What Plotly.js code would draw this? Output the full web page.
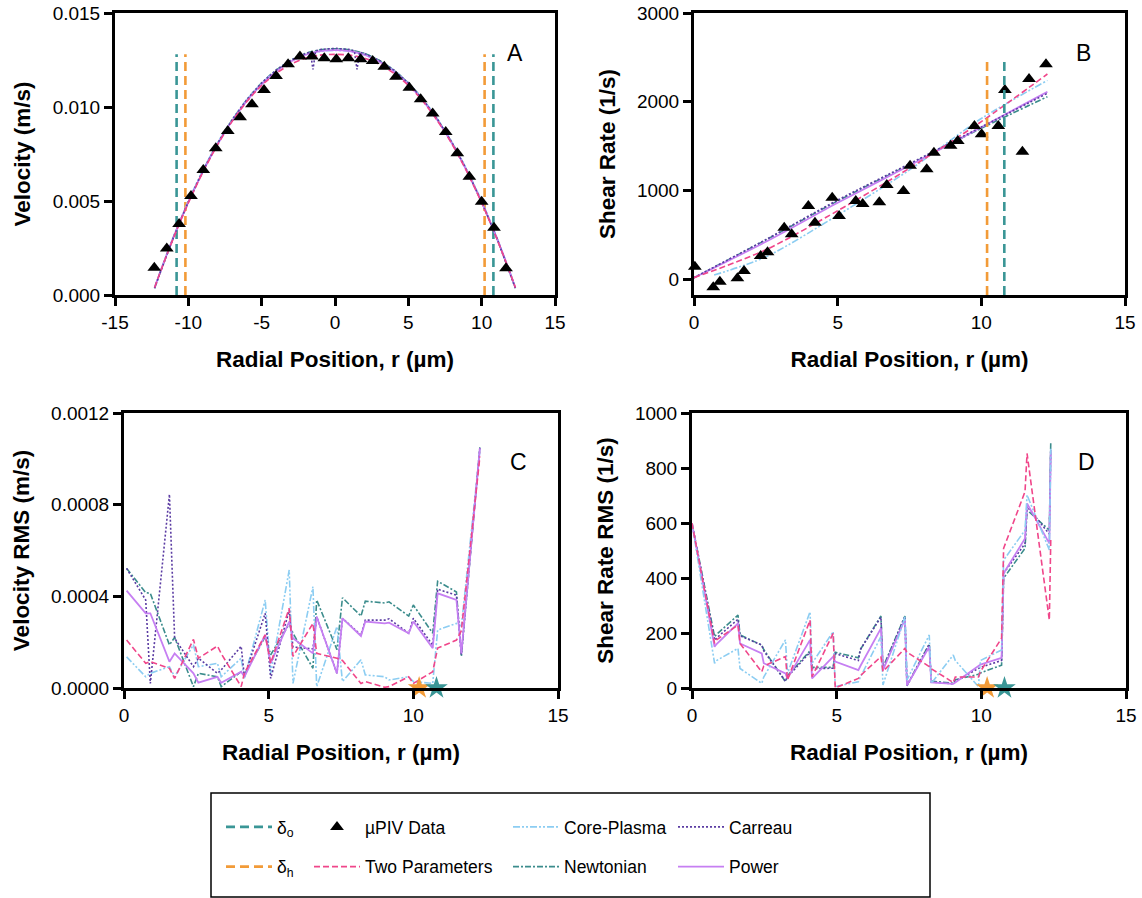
<!DOCTYPE html>
<html>
<head>
<meta charset="utf-8">
<script src="https://cdn.plot.ly/plotly-3.0.1.min.js"></script>
<style>html,body{margin:0;padding:0;background:#fff;} #chart{width:1142px;height:898px;}</style>
</head>
<body>
<div id="chart"></div>
<script>
// ---------- DATA ----------
// Panel A : velocity profiles
const rPIV_A = [-12.32,-11.47,-10.63,-9.82,-8.98,-8.13,-7.31,-6.47,-5.66,-4.84,-4.02,-3.20,-2.39,-1.57,-0.73,0.09,0.91,1.75,2.57,3.36,4.16,5.07,5.84,6.66,7.55,8.34,9.16,10.00,10.84,11.66];
const vPIV_A = [0.00145,0.00248,0.00378,0.00527,0.00665,0.00780,0.00872,0.00945,0.01014,0.01090,0.01165,0.01227,0.01268,0.01268,0.01259,0.01254,0.01259,0.01254,0.01245,0.01214,0.01161,0.01103,0.01041,0.00966,0.00867,0.00754,0.00629,0.00496,0.00358,0.00142];
const rModA = [-12.3,-12,-11,-10,-9,-8,-7,-6,-5,-4,-3,-2,-1,0,1,2,3,4,5,6,7,8,9,10,11,12,12.3];
const newtA  = [0.00036,0.00102,0.00309,0.00495,0.00661,0.00807,0.00933,0.01040,0.01128,0.01197,0.01249,0.01285,0.01304,0.01310,0.01304,0.01285,0.01249,0.01197,0.01128,0.01040,0.00933,0.00807,0.00661,0.00495,0.00309,0.00102,0.00036];
const powerA = [0.00038,0.00104,0.00310,0.00494,0.00658,0.00803,0.00928,0.01034,0.01121,0.01190,0.01242,0.01278,0.01297,0.01302,0.01297,0.01278,0.01242,0.01190,0.01121,0.01034,0.00928,0.00803,0.00658,0.00494,0.00310,0.00104,0.00038];
const coreA  = [0.00040,0.00106,0.00314,0.00500,0.00665,0.00810,0.00934,0.01040,0.01126,0.01194,0.01244,0.01278,0.01296,0.01301,0.01296,0.01278,0.01244,0.01194,0.01126,0.01040,0.00934,0.00810,0.00665,0.00500,0.00314,0.00106,0.00040];
const twoA   = [0.00040,0.00104,0.00306,0.00490,0.00655,0.00800,0.00925,0.01030,0.01115,0.01180,0.01228,0.01260,0.01276,0.01280,0.01276,0.01260,0.01228,0.01180,0.01115,0.01030,0.00925,0.00800,0.00655,0.00490,0.00306,0.00104,0.00040];
const rCarA  = [-12.3,-12,-11,-10,-9,-8,-7,-6,-5,-4,-3,-2,-1.68,-1.5,-1.32,-1,0,1,1.32,1.5,1.68,2,3,4,5,6,7,8,9,10,11,12,12.3];
const carA   = [0.00036,0.00102,0.00309,0.00495,0.00661,0.00807,0.00933,0.01040,0.01128,0.01197,0.01249,0.01285,0.01292,0.01200,0.01298,0.01306,0.01312,0.01306,0.01298,0.01200,0.01292,0.01285,0.01249,0.01197,0.01128,0.01040,0.00933,0.00807,0.00661,0.00495,0.00309,0.00102,0.00036];

// Panel B : shear rate
const rPIV_B = [0.03,0.67,0.90,1.51,1.74,2.32,2.56,3.14,3.40,3.98,4.21,4.81,5.05,5.63,5.87,6.45,6.71,7.29,7.52,8.10,8.35,8.93,9.18,9.76,10.01,10.59,10.82,11.43,11.66,12.25];
const sPIV_B = [139,-94,-30,8,90,259,301,579,504,823,635,917,710,880,846,865,1060,992,1278,1237,1425,1503,1556,1725,1632,1725,2131,1436,2256,2421];
const rModB  = [0,2.5,5,7.5,10,12.3];
const newtB  = [15,440,880,1290,1700,2056];
const carB   = [15,445,890,1300,1715,2094];
const powerB = [15,420,860,1280,1712,2112];
const twoB   = [15,330,770,1250,1775,2312];
const rCoreB = [0.7,2.5,5,7.5,10,12.3];
const coreB  = [45,250,720,1230,1810,2240];

// Panel C : velocity RMS
const rC = [0.09,0.75,0.91,1.57,1.75,2.40,2.57,3.23,3.36,4.05,4.16,4.88,5.07,5.71,5.84,6.53,6.66,7.36,7.55,8.19,8.34,9.01,9.16,9.84,10.00,10.67,10.84,11.49,11.66,12.30];
const newtC  = [5.22,4.16,4.13,1.88,2.21,0.06,0.64,0.49,0.06,0.71,0.57,2.24,1.45,2.79,2.39,0.86,3.84,1.67,3.94,3.14,3.79,3.71,3.76,3.14,3.62,2.39,4.66,4.19,1.38,10.50].map(v=>v*1e-4);
const carC   = [5.22,3.84,0.20,8.45,2.17,0.93,1.30,0.64,0.79,1.82,0.49,3.26,0.42,3.40,1.79,1.71,3.11,0.64,3.04,2.31,2.96,2.96,3.02,2.39,3.04,1.87,4.31,4.05,1.45,10.50].map(v=>v*1e-4);
const powerC = [4.25,3.26,3.26,1.15,1.51,0.64,0.23,0.49,0.23,0.71,0.49,2.32,1.08,2.90,2.17,1.51,3.11,0.64,3.04,2.27,2.90,2.82,2.85,2.39,2.90,1.74,4.13,3.84,1.51,10.46].map(v=>v*1e-4);
const coreC  = [1.36,0.49,0.64,0.93,0.49,1.89,0.93,1.08,0.49,1.30,0.42,3.84,0.64,5.15,0.20,4.42,0.06,2.68,0.28,1.23,0.57,0.49,0.35,0.49,0.28,0.20,2.53,2.82,2.70,10.38].map(v=>v*1e-4);
const twoC   = [2.09,1.08,1.15,0.86,0.42,2.12,1.30,1.83,1.50,0.06,0.64,2.32,1.08,3.48,1.38,2.82,1.51,1.30,1.20,0.20,0.28,0.03,0.06,0.49,0.20,0.71,1.74,2.09,2.50,10.10].map(v=>v*1e-4);

// Panel D : shear rate RMS
const rD = [0,0.78,0.85,1.59,1.66,2.41,2.48,3.23,3.30,4.08,4.15,4.88,4.95,5.75,5.82,6.53,6.60,7.36,7.43,8.20,8.27,9.03,9.10,9.90,9.97,10.70,10.77,11.51,11.58,12.35,12.40];
const newtD  = [599,187,195,265,193,156,140,23,45,135,75,75,130,110,140,262,75,262,10,160,25,17,30,50,55,83,399,508,647,574,896];
const carD   = [599,174,182,250,190,156,135,25,40,130,70,72,125,100,140,258,70,260,8,158,22,15,25,70,75,100,417,525,660,560,865];
const powerD = [599,150,160,235,162,126,90,53,35,175,35,114,96,65,80,217,65,250,10,150,20,15,20,80,85,110,417,544,671,526,860];
const coreD  = [599,90,100,144,71,17,40,175,53,277,90,205,5,23,40,187,11,259,29,193,17,120,100,5,100,138,465,574,702,502,870];
const twoD   = [599,162,175,229,162,59,80,114,29,247,41,199,0,35,45,114,60,144,130,78,70,20,40,40,60,181,508,714,853,247,540];

// Boundary positions
const deltaO = 10.8, deltaH = 10.2;
const deltaTopA = 0.0128, deltaTopB = 2470;

// Tick labels
const tickValsA = [-15,-10,-5,0,5,10,15];
const tickTextA = ['-15','-10','-5','0','5','10','15'];

// ---------- STYLE ----------
const FONT = 'Liberation Sans, Arial, Helvetica, sans-serif';
const C_O = '#3a9696', C_H = '#f29b38';
const styles = {
  two:   {name:'Two Parameters', color:'#f0468a', dash:'6px,3px', width:1.6, legend:'legend2', rank:2},
  core:  {name:'Core-Plasma',    color:'#8ccdf2', dash:'7px,2px,2px,2px,2px,2px', width:1.6, legend:'legend3', rank:1},
  newt:  {name:'Newtonian',      color:'#3b8c8c', dash:'6px,2px,2px,2px', width:1.6, legend:'legend3', rank:2},
  car:   {name:'Carreau',        color:'#5b3ca3', dash:'2px,2px', width:1.6, legend:'legend4', rank:1},
  power: {name:'Power',          color:'#c67ff2', dash:'solid', width:1.8, legend:'legend4', rank:2}
};

const traces = [];
function model(key, x, y, xa, ya, show, shape) {
  const s = styles[key];
  traces.push({x:x, y:y, xaxis:xa, yaxis:ya, type:'scatter', mode:'lines', name:s.name,
    line:{color:s.color, dash:s.dash, width:s.width, shape:shape||'linear', smoothing:0.8},
    legend:s.legend, legendrank:s.rank, legendgroup:key, showlegend:show});
}
function vline(x, top, bottom, color, xa, ya, name, show, legend, rank) {
  traces.push({x:[x,x], y:[bottom,top], xaxis:xa, yaxis:ya, type:'scatter', mode:'lines', name:name,
    line:{color:color, width:2.6, dash:'9px,5px'}, legend:legend, legendrank:rank, legendgroup:name, showlegend:show});
}

// Panel A
vline(-deltaO, deltaTopA, 0, C_O, 'x', 'y', 'δ<sub>o</sub>', true, 'legend', 1);
vline(deltaO, deltaTopA, 0, C_O, 'x', 'y', 'δ<sub>o</sub>', false, 'legend', 1);
vline(-deltaH, deltaTopA, 0, C_H, 'x', 'y', 'δ<sub>h</sub>', true, 'legend', 2);
vline(deltaH, deltaTopA, 0, C_H, 'x', 'y', 'δ<sub>h</sub>', false, 'legend', 2);
model('newt', rModA, newtA, 'x', 'y', true, 'spline');
model('core', rModA, coreA, 'x', 'y', true, 'spline');
model('power', rModA, powerA, 'x', 'y', true, 'spline');
model('car', rCarA, carA, 'x', 'y', true, 'linear');
model('two', rModA, twoA, 'x', 'y', true, 'spline');
traces.push({x:rPIV_A, y:vPIV_A, xaxis:'x', yaxis:'y', type:'scatter', mode:'markers', name:'µPIV Data',
  marker:{symbol:'triangle-up', size:12, color:'black'}, legend:'legend2', legendrank:1, legendgroup:'piv', showlegend:true});

// Panel B
model('newt', rModB, newtB, 'x2', 'y2', false, 'spline');
model('core', rCoreB, coreB, 'x2', 'y2', false, 'spline');
model('power', rModB, powerB, 'x2', 'y2', false, 'spline');
model('car', rModB, carB, 'x2', 'y2', false, 'spline');
model('two', rModB, twoB, 'x2', 'y2', false, 'spline');
traces.push({x:rPIV_B, y:sPIV_B, xaxis:'x2', yaxis:'y2', type:'scatter', mode:'markers', name:'µPIV Data',
  marker:{symbol:'triangle-up', size:12, color:'black'}, legendgroup:'piv', showlegend:false, cliponaxis:false});
vline(deltaH, deltaTopB, -180, C_H, 'x2', 'y2', 'δ<sub>h</sub>', false, 'legend', 2);
vline(deltaO, deltaTopB, -180, C_O, 'x2', 'y2', 'δ<sub>o</sub>', false, 'legend', 1);

// Panel C
model('newt', rC, newtC, 'x3', 'y3', false);
model('core', rC, coreC, 'x3', 'y3', false);
model('car', rC, carC, 'x3', 'y3', false);
model('power', rC, powerC, 'x3', 'y3', false);
model('two', rC, twoC, 'x3', 'y3', false);

// Panel D
model('newt', rD, newtD, 'x4', 'y4', false);
model('car', rD, carD, 'x4', 'y4', false);
model('power', rD, powerD, 'x4', 'y4', false);
model('core', rD, coreD, 'x4', 'y4', false);
model('two', rD, twoD, 'x4', 'y4', false);

// stars marking boundaries
[['x3','y3'],['x4','y4']].forEach(([xa,ya]) => {
  traces.push({x:[deltaH, deltaO], y:[0,0], xaxis:xa, yaxis:ya, type:'scatter', mode:'markers',
    marker:{symbol:'star', size:17, color:[C_H, C_O], line:{width:0}}, showlegend:false, cliponaxis:false});
});

// ---------- LAYOUT ----------
const W = 1142, H = 898;
const px = v => v / W, py = v => 1 - v / H;
function axis(dom, extra) {
  return Object.assign({domain:dom, showline:true, linewidth:3, linecolor:'black', mirror:true,
    ticks:'outside', ticklen:8, tickwidth:3, tickcolor:'black', showgrid:false, zeroline:false,
    tickfont:{size:19, color:'black', family:FONT}, fixedrange:true}, extra);
}
function xt(t) { return {text:'<b>'+t+'</b>', font:{size:22.5, color:'black', family:FONT}, standoff:20}; }
function yt(t) { return {text:'<b>'+t+'</b>', font:{size:22.5, color:'black', family:FONT}, standoff:16}; }

const xTitle = 'Radial Position, r (µm)';
const legendBase = {orientation:'v', xanchor:'left', yanchor:'top', bgcolor:'rgba(0,0,0,0)',
  font:{size:17.5, color:'black', family:FONT}, tracegroupgap:14, itemwidth:46};

const layout = {
  width:W, height:H, margin:{l:0, r:0, t:0, b:0}, paper_bgcolor:'white', plot_bgcolor:'white',
  font:{family:FONT, color:'black'},
  xaxis: axis([px(115), px(555)], {range:[-15,15], tickvals:tickValsA, ticktext:tickTextA, anchor:'y', title:xt(xTitle)}),
  yaxis: axis([py(295), py(13)], {range:[0,0.015], dtick:0.005, tickformat:'.3f', anchor:'x', title:yt('Velocity (m/s)')}),
  xaxis2: axis([px(694), px(1125)], {range:[0,15], dtick:5, anchor:'y2', title:xt(xTitle)}),
  yaxis2: axis([py(295), py(13)], {range:[-180,3000], tickvals:[0,1000,2000,3000], anchor:'x2', title:yt('Shear Rate (1/s)')}),
  xaxis3: axis([px(124), px(558)], {range:[0,15], dtick:5, anchor:'y3', title:xt(xTitle)}),
  yaxis3: axis([py(688), py(413)], {range:[0,0.0012], dtick:0.0004, tickformat:'.4f', anchor:'x3', title:yt('Velocity RMS (m/s)')}),
  xaxis4: axis([px(692), px(1126)], {range:[0,15], dtick:5, anchor:'y4', title:xt(xTitle)}),
  yaxis4: axis([py(688), py(413)], {range:[0,1000], dtick:200, anchor:'x4', title:yt('Shear Rate RMS (1/s)')}),
  legend:  Object.assign({}, legendBase, {x:px(221), y:py(809)}),
  legend2: Object.assign({}, legendBase, {x:px(309), y:py(809)}),
  legend3: Object.assign({}, legendBase, {x:px(508), y:py(809)}),
  legend4: Object.assign({}, legendBase, {x:px(673), y:py(809)}),
  shapes:[{type:'rect', xref:'paper', yref:'paper', x0:px(211), x1:px(930), y0:py(897), y1:py(793),
    line:{color:'black', width:1.5}}],
  annotations:[
    {text:'A', xref:'x domain', yref:'y domain', x:0.932, y:0.911, showarrow:false, font:{size:23, color:'black'}},
    {text:'B', xref:'x2 domain', yref:'y2 domain', x:0.926, y:0.911, showarrow:false, font:{size:23, color:'black'}},
    {text:'C', xref:'x3 domain', yref:'y3 domain', x:0.933, y:0.876, showarrow:false, font:{size:23, color:'black'}},
    {text:'D', xref:'x4 domain', yref:'y4 domain', x:0.933, y:0.876, showarrow:false, font:{size:23, color:'black'}}
  ]
};

Plotly.newPlot('chart', traces, layout, {staticPlot:true, displayModeBar:false});
</script>
</body>
</html>
